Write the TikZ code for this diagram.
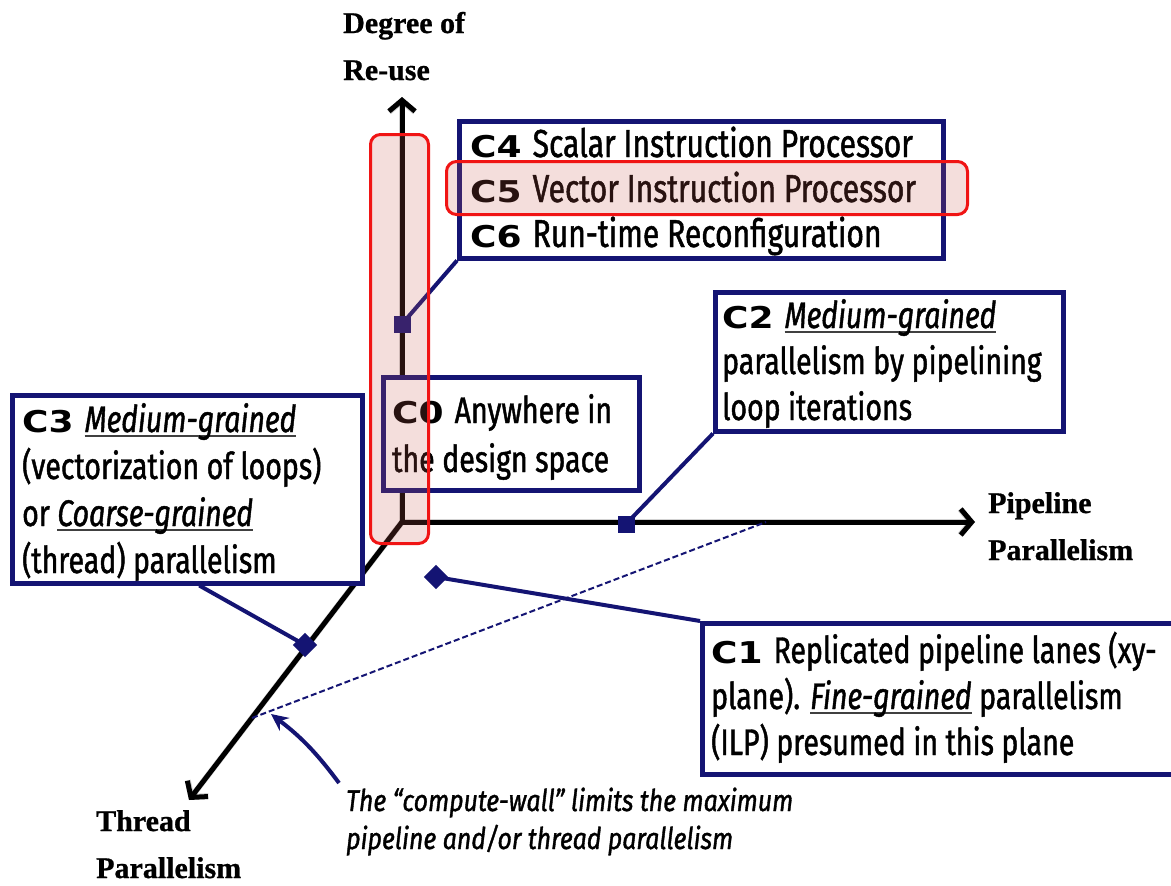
\documentclass[tikz,border=0pt]{standalone}
\usepackage{fontspec}
\setmainfont{Fira Sans}
\newfontfamily\condfont[FakeStretch=0.77,FakeBold=1.2]{Fira Sans}
\newfontfamily\notefont[FakeStretch=0.83,FakeBold=1.2]{Fira Sans}
\newfontfamily\clabfont[FakeStretch=1.2]{DejaVu Sans}
\newfontfamily\axisfont[FakeBold=0.8]{Liberation Serif}
\usetikzlibrary{arrows.meta,calc}

\definecolor{boxnavy}{RGB}{20,20,115}
\definecolor{hlred}{RGB}{240,20,20}
\definecolor{hlfill}{RGB}{200,90,80}

% bold wide design-space labels (C0 ... C6)
\newcommand\clab[1]{{\clabfont\bfseries\fontsize{30}{46}\selectfont #1}\hspace{11pt}}
% italic, underlined granularity terms
\newcommand\grainul[1]{\setbox0=\hbox{\itshape #1}\rlap{\color{darkgray}\rule[-4.5pt]{\wd0}{2pt}}\box0\relax}

\begin{document}
\begin{tikzpicture}[x=1pt,y=-1pt,
  axisline/.style={line width=5pt, black, -{Straight Barb[length=11pt,width=26pt]}},
  axisshadow/.style={line width=6pt, black, opacity=0.18, -{Straight Barb[length=11pt,width=26pt]}},
  axislabel/.style={inner sep=0pt, align=left, anchor=base west,
    font=\axisfont\bfseries\fontsize{30}{47}\selectfont},
  cbox/.style={draw=boxnavy, line width=4.5pt, fill=white, anchor=north west, inner sep=0pt},
  ctext/.style={inner sep=0pt, align=left, anchor=base west,
    font=\condfont\fontsize{37}{46}\selectfont},
  conn/.style={draw=boxnavy, line width=4pt},
  sqmark/.style={fill=boxnavy, inner sep=0pt, minimum size=17pt, rectangle},
  dmmark/.style={sqmark, rotate=45},
  wall/.style={draw=boxnavy, line width=2pt, dash pattern=on 6pt off 3pt},
  notearrow/.style={draw=boxnavy, line width=4pt, -{Stealth[length=17pt,width=16pt]}},
  note/.style={inner sep=0pt, align=left, anchor=base west,
    font=\notefont\itshape\fontsize{30}{38}\selectfont},
  hlbox/.style={draw=hlred, line width=3pt, rounded corners=10pt,
    fill=hlfill, fill opacity=0.2, anchor=north west, inner sep=0pt}
]
\useasboundingbox (0,0) rectangle (1171,886);
\fill[white] (0,0) rectangle (1171,886);

% three axes of the design space, with a soft shadow
\coordinate (O) at (402,522);
\coordinate (ytip) at (402,97);
\coordinate (xtip) at (975,522);
\coordinate (ztip) at (189,800);
\begin{scope}[shift={(2,3)}]
  \draw[axisshadow] (O) -- (ytip);
  \draw[axisshadow] (O) -- (xtip);
  \draw[axisshadow] (O) -- (ztip);
\end{scope}
\draw[axisline] (O) -- (ytip);
\draw[axisline] (O) -- (xtip);
\draw[axisline] (O) -- (ztip);

% axis names (anchored at the baseline of their last line)
\node[axislabel] (lblY) at (343,80) {Degree of\\Re-use};
\node[axislabel] (lblX) at (988,560) {Pipeline\\Parallelism};
\node[axislabel] (lblZ) at (96,878) {Thread\\Parallelism};

% compute wall
\coordinate (wallA) at (252,718);
\coordinate (wallB) at (766,522);
\draw[wall] (wallA) -- (wallB);
\coordinate (noteTail) at (339,783);
\coordinate (wallHit) at (271,714);
\draw[notearrow] (noteTail) to[bend right=8] (wallHit);

% description boxes
\node[cbox, minimum width=484pt, minimum height=137pt] (c4) at (457,119) {};
\node[cbox, minimum width=256pt, minimum height=113pt] (c0) at (381,375) {};
\node[cbox, minimum width=348pt, minimum height=139pt] (c2) at (713,290) {};
\node[cbox, minimum width=350pt, minimum height=188pt] (c3) at (10,393) {};
\node[cbox, minimum width=490pt, minimum height=151pt] (c1) at (700,621) {};

% connectors from the boxes to their markers
\node[sqmark] (m4) at (402,324) {};
\node[sqmark] (m2) at (626,524) {};
\node[dmmark] (m1) at (436,577) {};
\node[dmmark] (m3) at (305,645) {};
\draw[conn] (m4.center) -- (c4.south west);
\draw[conn] (m2.center) -- (c2.south west);
\draw[conn] (m1.center) -- (c1.north west);
\draw[conn] (m3.center) -- ($(c3.south west)!0.534!(c3.south east)$);

% box texts (anchored at the baseline of their last line)
\node[ctext, font=\condfont\fontsize{39}{45}\selectfont] (c4text) at (470,247)
  {\clab{C4}Scalar Instruction Processor\\\clab{C5}Vector Instruction Processor\\\clab{C6}Run-time Reconfiguration};
\node[ctext, font=\condfont\fontsize{37}{49}\selectfont] (c0text) at (392,472)
  {\clab{C0}Anywhere in\\the design space};
\node[ctext] (c2text) at (722,420)
  {\clab{C2}\grainul{Medium-grained}\\parallelism by pipelining\\loop iterations};
\node[ctext, font=\condfont\fontsize{37}{47}\selectfont] (c3text) at (22,573)
  {\clab{C3}\grainul{Medium-grained}\\(vectorization of loops)\\or \grainul{Coarse-grained}\\(thread) parallelism};
\node[ctext] (c1text) at (711,755)
  {\clab{C1}Replicated pipeline lanes (xy-\\plane). \grainul{Fine-grained} parallelism\\(ILP) presumed in this plane};

\node[note] (note) at (346,849) {The “compute-wall” limits the maximum\\pipeline and/or thread parallelism};

% highlighted region and row
\node[hlbox, minimum width=58pt, minimum height=409pt] (hlReuse) at (369,133) {};
\node[hlbox, minimum width=521pt, minimum height=53pt] (hlVector) at (445,160) {};
\end{tikzpicture}
\end{document}
